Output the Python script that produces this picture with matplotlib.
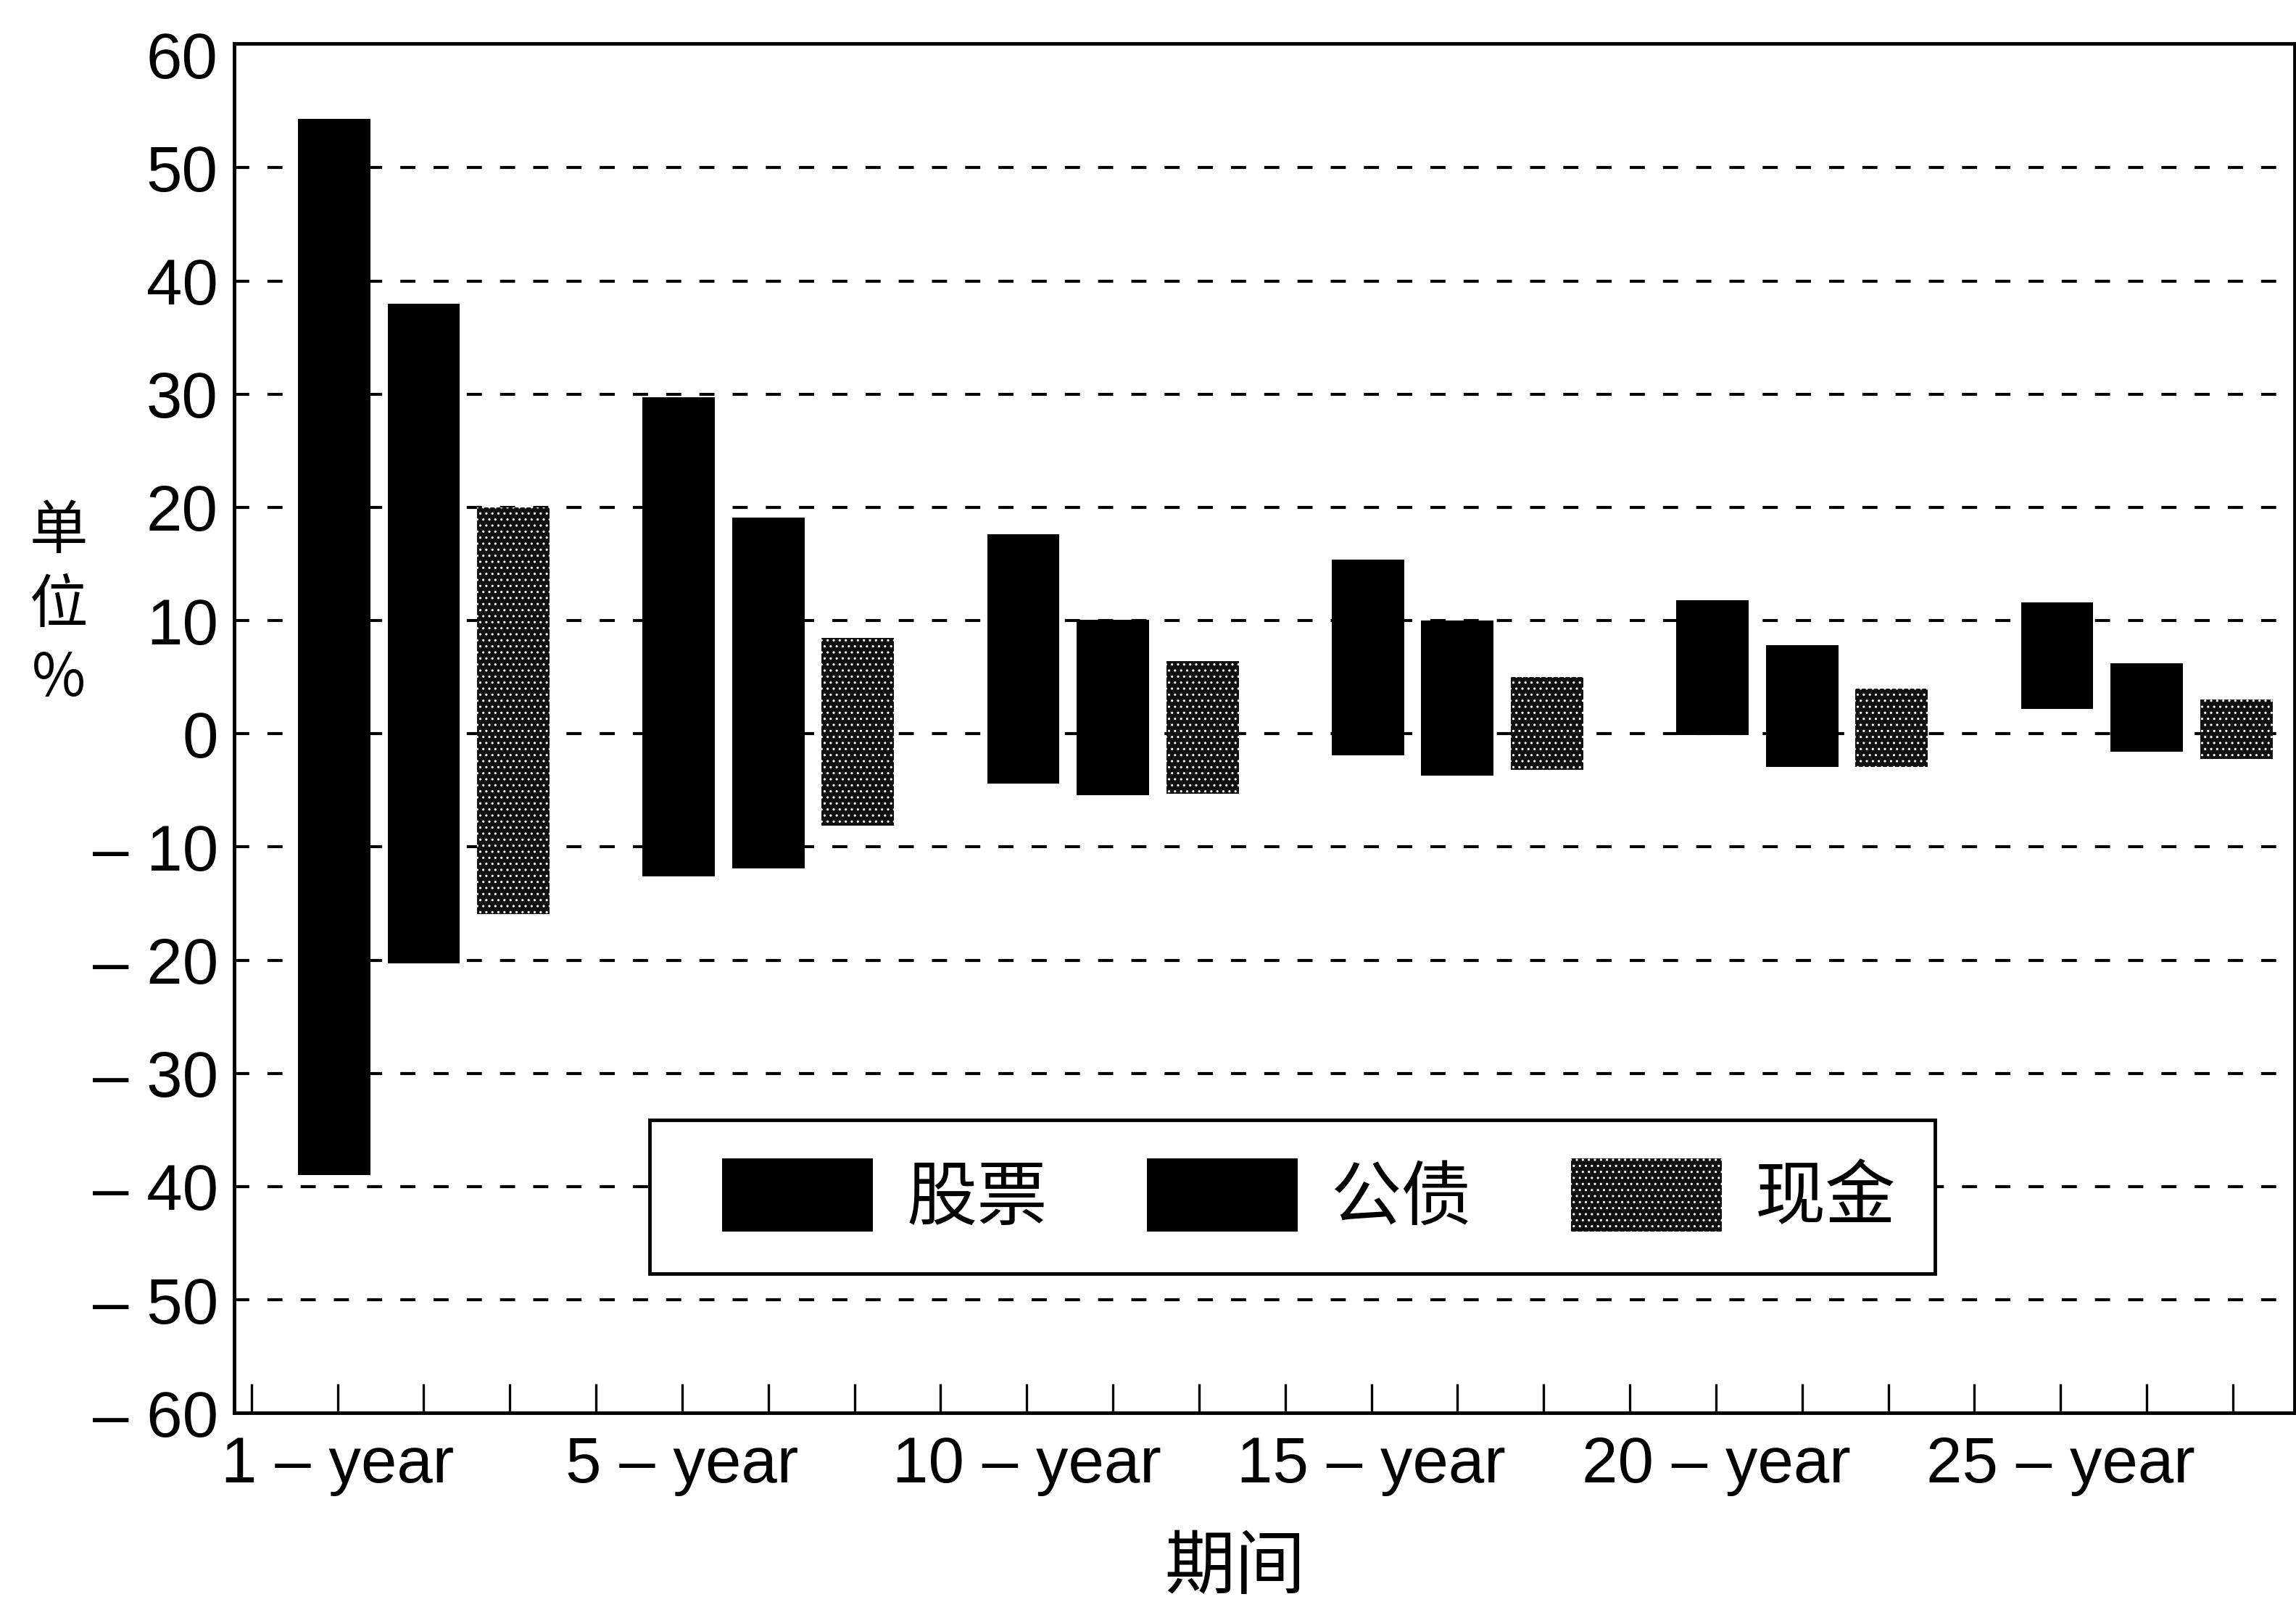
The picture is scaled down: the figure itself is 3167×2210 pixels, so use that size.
import numpy as np
import matplotlib.pyplot as plt
from matplotlib.container import BarContainer
from matplotlib.legend_handler import HandlerPatch, update_from_first_child

# 各期间收益率区间 (单位 %)
periods = ['1 – year', '5 – year', '10 – year', '15 – year', '20 – year', '25 – year']
series = ['股票', '公债', '现金']

stock_high = [54.3, 29.7, 17.6, 15.4, 11.8, 11.6]
stock_low = [-39.0, -12.6, -4.4, -1.9, -0.1, 2.2]
bond_high = [38.0, 19.1, 10.1, 10.0, 7.8, 6.2]
bond_low = [-20.3, -11.9, -5.4, -3.7, -2.9, -1.6]
cash_high = [20.0, 8.5, 6.4, 5.0, 4.0, 3.0]
cash_low = [-15.9, -8.1, -5.3, -3.2, -2.9, -2.2]

y_ticks = list(range(-60, 61, 10))

plt.rcParams['font.family'] = ['Liberation Sans', 'Noto Sans CJK SC']
plt.rcParams['hatch.linewidth'] = 1.1
cjk = ['Noto Sans CJK SC', 'Liberation Sans']

fig = plt.figure(figsize=(31.67, 22.10), dpi=100)
ax = fig.add_axes([0.102, 0.118, 0.8975, 0.855])

x = np.arange(len(periods))
w = 0.21
off = 0.26

ax.bar(x - off, np.subtract(stock_high, stock_low), w, bottom=stock_low,
       color='black', linewidth=0, label=series[0], zorder=3)
ax.bar(x, np.subtract(bond_high, bond_low), w, bottom=bond_low,
       color='black', linewidth=0, label=series[1], zorder=3)
ax.bar(x + off, np.subtract(cash_high, cash_low), w, bottom=cash_low,
       color='#101010', edgecolor='white', linewidth=0, hatch='..',
       label=series[2], zorder=3)

# 虚线网格
for v in y_ticks:
    if abs(v) < 60:
        ax.axhline(v, color='black', linewidth=3, linestyle=(0, (5, 6)), zorder=1)

ax.set_ylim(-60, 61)
ax.set_xlim(-0.55, 5.43)
ax.set_yticks(y_ticks)
ax.set_yticklabels([f'– {abs(v)}' if v < 0 else str(v) for v in y_ticks])
ax.set_xticks(x - 0.25)
ax.set_xticklabels(periods)
ax.set_xticks(np.arange(-0.5, 5.3, 0.25), minor=True)

ax.tick_params(axis='y', which='major', length=0, labelsize=64, pad=16)
ax.tick_params(axis='x', which='both', direction='in', length=29, width=2.4)
ax.tick_params(axis='x', which='major', labelsize=64, pad=22)
ax.tick_params(axis='y', which='minor', length=0)

for s in ax.spines.values():
    s.set_linewidth(3.5)

bar_handler = HandlerPatch(xpad=0.48, update_func=update_from_first_child)
leg = ax.legend(ncol=3, loc='upper left', bbox_to_anchor=(0.283, 0.301),
                bbox_transform=fig.transFigure,
                prop={'family': cjk, 'size': 70},
                handler_map={BarContainer: bar_handler},
                handlelength=2.62, handleheight=1.22, handletextpad=0.47,
                columnspacing=0.93, borderpad=0.55, borderaxespad=0,
                fancybox=False, framealpha=1, edgecolor='black')
leg.get_frame().set_linewidth(3.5)

fig.text(0.0255, 0.622, '单\n位\n%', family=cjk, fontsize=58,
         ha='center', va='center', linespacing=1.3)
fig.text(0.538, 0.021, '期间', family=cjk, fontsize=70, ha='center', va='center')

fig.savefig('out.png', dpi=100)
